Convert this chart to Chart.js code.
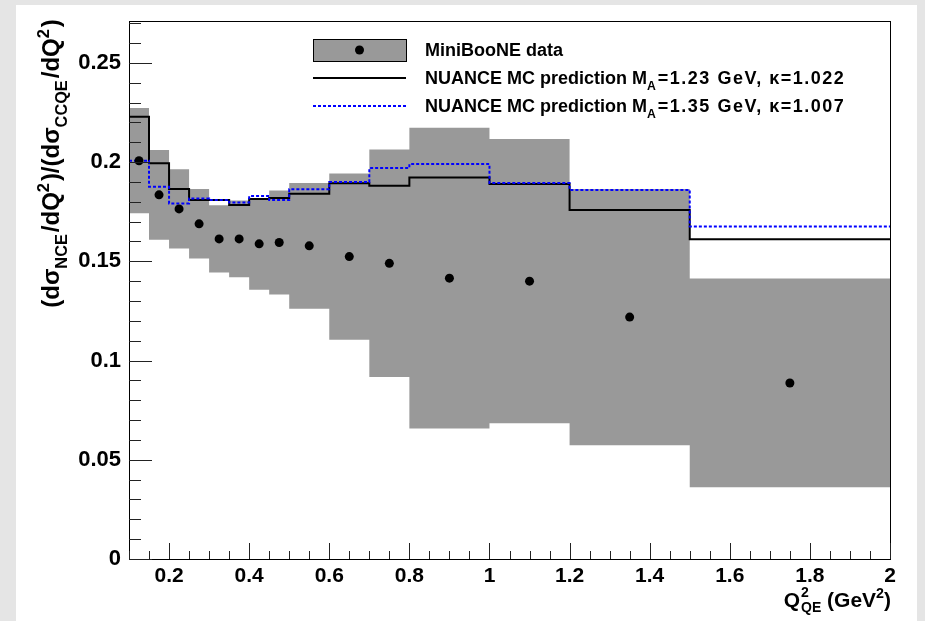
<!DOCTYPE html>
<html>
<head>
<meta charset="utf-8">
<script src="https://cdn.jsdelivr.net/npm/chart.js@4.4.0/dist/chart.umd.min.js"></script>
<style>
    html, body { margin: 0; padding: 0; background: #e5e5e5; }
    #panel { position: absolute; left: 16px; top: 5px; width: 901px; height: 616px; background: #fff; }
    #wrap { position: absolute; left: 0; top: 0; width: 925px; height: 621px; }
</style>
</head>
<body>
<div id="panel"></div>
<div id="wrap"><canvas id="ratioChart" width="925" height="621"></canvas></div>
<script>
// Q2_QE bins (GeV^2)
const binEdges = [0.1, 0.15, 0.2, 0.25, 0.3, 0.35, 0.4, 0.45, 0.5, 0.6, 0.7, 0.8, 1.0, 1.2, 1.5, 2.0];
const binCenters = [0.125, 0.175, 0.225, 0.275, 0.325, 0.375, 0.425, 0.475, 0.55, 0.65, 0.75, 0.9, 1.1, 1.35, 1.75];

// MiniBooNE ratio and its total error
const dataRatio = [0.2007, 0.1835, 0.1764, 0.1689, 0.1613, 0.1613, 0.1588, 0.1595, 0.1578, 0.1524, 0.1490, 0.1415, 0.1400, 0.1219, 0.0887];
const dataError = [0.0265, 0.0226, 0.0200, 0.0175, 0.0169, 0.0193, 0.0231, 0.0262, 0.0317, 0.0419, 0.0573, 0.0758, 0.0716, 0.0646, 0.0526];

// NUANCE predictions
const mcMA123 = [0.2228, 0.1994, 0.1865, 0.1809, 0.1809, 0.1784, 0.1814, 0.1819, 0.1840, 0.1893, 0.1881, 0.1923, 0.1890, 0.1759, 0.1611];
const mcMA135 = [0.2007, 0.1876, 0.1792, 0.1817, 0.1809, 0.1797, 0.1829, 0.1809, 0.1863, 0.1900, 0.1970, 0.1990, 0.1895, 0.1860, 0.1676];

const xTicks = [0.2, 0.4, 0.6, 0.8, 1, 1.2, 1.4, 1.6, 1.8, 2];
const yTicks = [0, 0.05, 0.1, 0.15, 0.2, 0.25];

const legendLabels = [
    [{ t: 'MiniBooNE data' }],
    [{ t: 'NUANCE MC prediction M' }, { t: 'A', sub: true }, { t: '=1.23 GeV, \u03ba=1.022', spread: 1.5 }],
    [{ t: 'NUANCE MC prediction M' }, { t: 'A', sub: true }, { t: '=1.35 GeV, \u03ba=1.007', spread: 1.5 }],
];

const FONT = '"Liberation Sans", Arial, sans-serif';
const GREY = '#999999';

// histogram as a step line: one point per bin edge
function steps(values) {
    return binEdges.map((x, i) => ({ x: x, y: values[Math.min(i, values.length - 1)] }));
}

const upper = dataRatio.map((v, i) => v + dataError[i]);
const lower = dataRatio.map((v, i) => v - dataError[i]);

// draws text with sub/superscripts, returns width
function richText(ctx, parts, x, y, size, gap, measureOnly) {
    let cx = x;
    parts.forEach((p) => {
        const small = p.sub || p.sup;
        const s = small ? size * 0.68 : size;
        ctx.font = 'bold ' + s + 'px ' + FONT;
        ctx.letterSpacing = (p.spread || 0) + 'px';
        const dy = p.sub ? size * 0.32 : p.sup ? -size * 0.42 : 0;
        if (!measureOnly) ctx.fillText(p.t, cx, y + dy);
        cx += ctx.measureText(p.t).width + (small ? gap : 0);
        ctx.letterSpacing = '0px';
    });
    return cx - x;
}

const decorPlugin = {
    id: 'decor',
    afterDatasetsDraw(chart) {
        const ctx = chart.ctx;
        const area = chart.chartArea;
        const xs = chart.scales.x;
        const ys = chart.scales.y;
        ctx.save();

        // frame
        ctx.strokeStyle = '#000';
        ctx.lineWidth = 1;
        ctx.strokeRect(Math.round(area.left) + 0.5, Math.round(area.top) + 0.5,
            Math.round(area.right - area.left), Math.round(area.bottom - area.top));

        // inside ticks
        ctx.strokeStyle = '#222';
        ctx.beginPath();
        for (let k = 0; k <= 27; k++) {
            const py = Math.round(ys.getPixelForValue(k / 100)) + 0.5;
            const len = k % 5 === 0 ? 23 : 12;
            ctx.moveTo(area.left, py);
            ctx.lineTo(area.left + len, py);
        }
        for (let k = 2; k <= 40; k++) {
            const px = Math.round(xs.getPixelForValue(k * 0.05)) + 0.5;
            const len = k % 4 === 0 ? 16 : 8;
            ctx.moveTo(px, area.bottom);
            ctx.lineTo(px, area.bottom - len);
        }
        ctx.stroke();

        // y title, rotated
        ctx.fillStyle = '#000';
        ctx.textBaseline = 'alphabetic';
        ctx.textAlign = 'left';
        const yTitle = [
            { t: '(d\u03c3' }, { t: 'NCE', sub: true }, { t: '/dQ' }, { t: '2', sup: true },
            { t: ')/(d\u03c3' }, { t: 'CCQE', sub: true }, { t: '/dQ' }, { t: '2', sup: true }, { t: ')' },
        ];
        ctx.save();
        ctx.translate(59, area.top - 2);
        ctx.rotate(-Math.PI / 2);
        const wy = richText(ctx, yTitle, 0, 0, 24, 2, true);
        richText(ctx, yTitle, -wy, 0, 24, 2);
        ctx.restore();

        // x title
        const xTitleRest = [{ t: ' (GeV' }, { t: '2', sup: true }, { t: ')' }];
        const wRest = richText(ctx, xTitleRest, 0, 0, 21, 0, true);
        ctx.font = 'bold 21px ' + FONT;
        const wQ = ctx.measureText('Q').width;
        ctx.font = 'bold 14px ' + FONT;
        const wIdx = Math.max(ctx.measureText('QE').width, ctx.measureText('2').width);
        const x0 = area.right - wRest - wIdx - wQ;
        const by = 607;
        ctx.font = 'bold 21px ' + FONT;
        ctx.fillText('Q', x0, by);
        ctx.font = 'bold 14px ' + FONT;
        ctx.fillText('2', x0 + wQ + 1, by - 10);
        ctx.fillText('QE', x0 + wQ + 1, by + 5);
        richText(ctx, xTitleRest, x0 + wQ + wIdx + 1, by, 21, 0);

        // legend
        const lx0 = 313, lx1 = 406, tx = 425;
        const rows = [50, 78, 106];
        ctx.fillStyle = GREY;
        ctx.fillRect(lx0, rows[0] - 11, lx1 - lx0, 22);
        ctx.strokeStyle = '#000';
        ctx.lineWidth = 1;
        ctx.strokeRect(lx0 + 0.5, rows[0] - 11 + 0.5, lx1 - lx0, 22);
        ctx.fillStyle = '#000';
        ctx.beginPath();
        ctx.arc((lx0 + lx1) / 2, rows[0], 4.5, 0, Math.PI * 2);
        ctx.fill();

        ctx.lineWidth = 2;
        ctx.beginPath();
        ctx.moveTo(lx0, rows[1]);
        ctx.lineTo(lx1, rows[1]);
        ctx.stroke();

        ctx.strokeStyle = '#0000ff';
        ctx.setLineDash([3, 2]);
        ctx.beginPath();
        ctx.moveTo(lx0, rows[2]);
        ctx.lineTo(lx1, rows[2]);
        ctx.stroke();
        ctx.setLineDash([]);

        ctx.fillStyle = '#000';
        legendLabels.forEach((parts, i) => {
            richText(ctx, parts, tx, rows[i] + 6, 18, 2);
        });

        ctx.restore();
    },
};

new Chart(document.getElementById('ratioChart'), {
    type: 'line',
    data: {
        datasets: [
            {
                label: 'error band',
                data: steps(upper),
                stepped: 'before',
                borderWidth: 0,
                borderColor: 'rgba(0,0,0,0)',
                backgroundColor: GREY,
                pointRadius: 0,
                fill: '+1',
                order: 5,
            },
            {
                label: 'error band low',
                data: steps(lower),
                stepped: 'before',
                borderWidth: 0,
                borderColor: 'rgba(0,0,0,0)',
                pointRadius: 0,
                fill: false,
                order: 6,
            },
            {
                label: 'NUANCE MA=1.23',
                data: steps(mcMA123),
                stepped: 'before',
                borderColor: '#000',
                borderWidth: 2,
                pointRadius: 0,
                fill: false,
                order: 3,
            },
            {
                label: 'NUANCE MA=1.35',
                data: steps(mcMA135),
                stepped: 'before',
                borderColor: '#0000ff',
                borderWidth: 2,
                borderDash: [3, 2],
                pointRadius: 0,
                fill: false,
                order: 2,
            },
            {
                label: 'MiniBooNE data',
                data: binCenters.map((x, i) => ({ x: x, y: dataRatio[i] })),
                showLine: false,
                pointRadius: 4.5,
                pointBackgroundColor: '#000',
                pointBorderWidth: 0,
                order: 1,
            },
        ],
    },
    options: {
        responsive: false,
        animation: false,
        layout: { padding: { left: 0, right: 35, top: 20, bottom: 0 } },
        plugins: {
            legend: { display: false },
            tooltip: { enabled: false },
        },
        scales: {
            x: {
                type: 'linear',
                min: 0.1,
                max: 2,
                grid: { display: false, drawTicks: false },
                border: { display: false },
                afterBuildTicks: (s) => { s.ticks = xTicks.map((v) => ({ value: v })); },
                afterFit: (s) => { s.height = 62; },
                ticks: {
                    color: '#000',
                    padding: 5,
                    maxRotation: 0,
                    autoSkip: false,
                    font: { family: FONT, size: 21, weight: 'bold' },
                    callback: (v) => String(Math.round(v * 10) / 10),
                },
            },
            y: {
                type: 'linear',
                min: 0,
                max: 0.271,
                grid: { display: false, drawTicks: false },
                border: { display: false },
                afterBuildTicks: (s) => { s.ticks = yTicks.map((v) => ({ value: v })); },
                afterFit: (s) => { s.width = 129; },
                ticks: {
                    color: '#000',
                    padding: 8,
                    autoSkip: false,
                    font: { family: FONT, size: 22, weight: 'bold' },
                    callback: (v) => String(Math.round(v * 100) / 100),
                },
            },
        },
    },
    plugins: [decorPlugin],
});
</script>
</body>
</html>
